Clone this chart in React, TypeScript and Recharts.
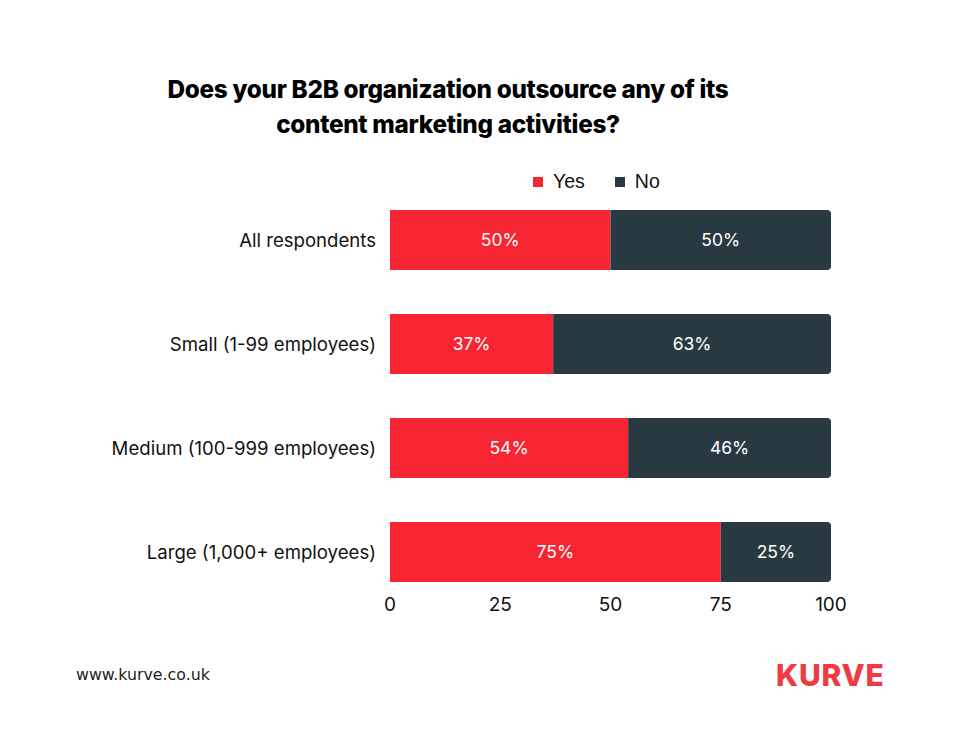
import { Bar, BarChart, LabelList, XAxis, YAxis } from "recharts";

const categories = [
  "All respondents",
  "Small (1-99 employees)",
  "Medium (100-999 employees)",
  "Large (1,000+ employees)",
];
const yesValues = [50, 37, 54, 75];
const noValues = [50, 63, 46, 25];
const xTicks = [0, 25, 50, 75, 100];

const RED = "#F72531";
const DARK = "#293942";

const data = categories.map((name, i) => ({
  name,
  yes: yesValues[i],
  no: noValues[i],
}));

const App = () => {
  return (
    <div
      style={{
        position: "absolute",
        left: 0,
        top: 0,
        width: 960,
        height: 750,
        background: "#fff",
        fontFamily: "Inter, sans-serif",
        overflow: "hidden",
      }}
    >
      <div
        style={{
          position: "absolute",
          top: 72,
          left: 148,
          width: 600,
          textAlign: "center",
          fontSize: 24.3,
          fontWeight: 800,
          lineHeight: "35px",
          color: "#000",
          letterSpacing: -0.3,
        }}
      >
        Does your B2B organization outsource any of its
        <br />
        content marketing activities?
      </div>

      {/* legend */}
      <div
        style={{
          position: "absolute",
          top: 170,
          left: 533,
          display: "flex",
          alignItems: "center",
          fontFamily: "'Liberation Sans', Arial, sans-serif",
          fontSize: 19.5,
          color: "#111",
        }}
      >
        <span style={{ width: 10, height: 10, background: RED, display: "inline-block" }} />
        <span style={{ marginLeft: 10 }}>Yes</span>
        <span
          style={{ width: 10, height: 10, background: DARK, display: "inline-block", marginLeft: 30 }}
        />
        <span style={{ marginLeft: 10 }}>No</span>
      </div>

      <div style={{ position: "absolute", left: 0, top: 0 }}>
        <BarChart
          width={960}
          height={750}
          data={data}
          layout="vertical"
          margin={{ top: 188, right: 129, bottom: 116, left: 0 }}
          barCategoryGap={22}
        >
          <XAxis
            type="number"
            domain={[0, 100]}
            ticks={xTicks}
            axisLine={false}
            tickLine={false}
            tickSize={0}
            tickMargin={0}
            height={30}
            tick={{ fill: "#111", fontSize: 19, dy: -6 }}
          />
          <YAxis
            type="category"
            dataKey="name"
            width={390}
            axisLine={false}
            tickLine={false}
            tickSize={0}
            tickMargin={14}
            tick={{ fill: "#111", fontSize: 18.6 }}
          />
          <Bar dataKey="yes" stackId="a" fill={RED} barSize={60} isAnimationActive={false}>
            <LabelList
              dataKey="yes"
              position="center"
              formatter={(v: number) => `${v}%`}
              style={{ fill: "#fff", fontSize: 17.5 }}
            />
          </Bar>
          <Bar
            dataKey="no"
            stackId="a"
            fill={DARK}
            barSize={60}
            radius={[0, 4, 4, 0]}
            isAnimationActive={false}
          >
            <LabelList
              dataKey="no"
              position="center"
              formatter={(v: number) => `${v}%`}
              style={{ fill: "#fff", fontSize: 17.5 }}
            />
          </Bar>
        </BarChart>
      </div>

      <div
        style={{
          position: "absolute",
          left: 76,
          top: 665,
          fontFamily: "'DejaVu Sans', sans-serif",
          fontSize: 15.8,
          color: "#222",
        }}
      >
        www.kurve.co.uk
      </div>
      <div
        style={{
          position: "absolute",
          left: 776,
          top: 657,
          fontFamily: "Inter, sans-serif",
          fontSize: 30,
          fontWeight: 800,
          color: "#EF3A44",
          letterSpacing: 0.8,
        }}
      >
        KURVE
      </div>
    </div>
  );
};

export default App;
